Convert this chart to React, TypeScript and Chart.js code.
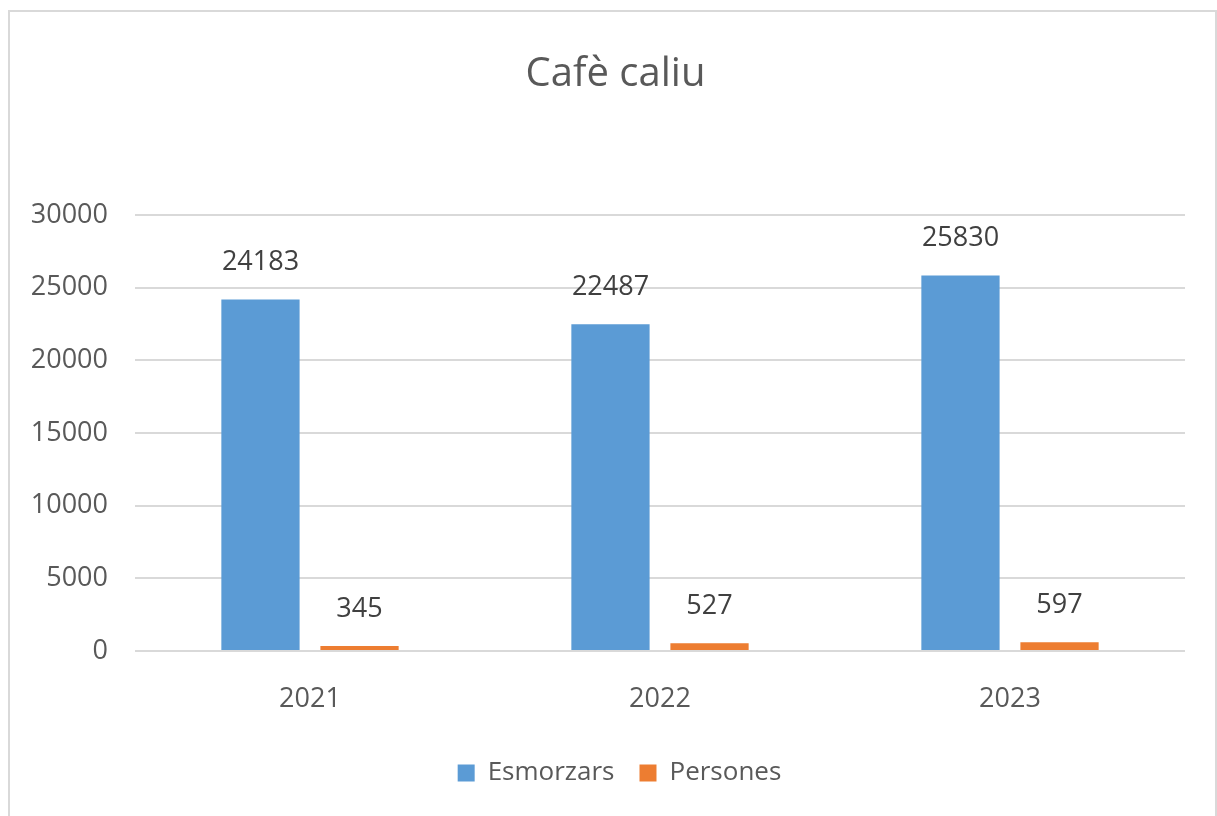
import React, { useEffect, useRef } from "react";
import { Chart, registerables } from "chart.js";

Chart.register(...registerables);

const title = "Cafè caliu";
const categories = ["2021", "2022", "2023"];
const esmorzars = [24183, 22487, 25830];
const persones = [345, 527, 597];
const yTicks = [0, 5000, 10000, 15000, 20000, 25000, 30000];

const FONT = "'Open Sans', sans-serif";

const dataLabels = {
  id: "dataLabels",
  afterDatasetsDraw(chart: any) {
    const ctx = chart.ctx;
    ctx.save();
    ctx.font = `27px ${FONT}`;
    ctx.fillStyle = "#404040";
    ctx.textAlign = "center";
    ctx.textBaseline = "middle";
    chart.data.datasets.forEach((ds: any, i: number) => {
      const meta = chart.getDatasetMeta(i);
      meta.data.forEach((el: any, j: number) => {
        ctx.fillText(String(ds.data[j]), el.x, el.y - 37);
      });
    });
    ctx.restore();
  },
};

// shift title and legend horizontally to match the reference centring
const shiftBoxes = {
  id: "shiftBoxes",
  afterLayout(chart: any) {
    const t = chart.titleBlock;
    if (t) {
      t.left += 23;
      t.right += 23;
    }
    const l = chart.legend;
    if (l) {
      l.left += 27;
      l.right += 27;
      if (typeof l.adjustHitBoxes === "function") l.adjustHitBoxes();
    }
  },
};

export default function App() {
  const ref = useRef<HTMLCanvasElement>(null);
  useEffect(() => {
    if (!ref.current) return;
    const chart = new Chart(ref.current, {
      type: "bar",
      data: {
        labels: categories,
        datasets: [
          {
            label: "Esmorzars",
            data: esmorzars,
            backgroundColor: "#5B9BD5",
            categoryPercentage: 0.566,
            barPercentage: 0.79,
          },
          {
            label: "Persones",
            data: persones,
            backgroundColor: "#ED7D31",
            categoryPercentage: 0.566,
            barPercentage: 0.79,
          },
        ],
      },
      options: {
        responsive: false,
        animation: false,
        layout: { padding: { left: 0, right: 32, top: 0, bottom: 20 } },
        plugins: {
          title: {
            display: true,
            text: title,
            color: "#595959",
            font: { family: FONT, size: 40, weight: "normal" as any, lineHeight: 1.2 },
            padding: { top: 51, bottom: 116 },
          },
          legend: {
            position: "bottom",
            labels: {
              color: "#595959",
              font: { family: FONT, size: 26 },
              boxWidth: 17,
              boxHeight: 17,
              padding: 25,
            },
          },
          tooltip: { enabled: false },
        },
        scales: {
          x: {
            grid: { display: false, drawTicks: false },
            border: { display: false },
            ticks: { color: "#595959", font: { family: FONT, size: 27 }, padding: 32 },
            afterFit: (s: any) => {
              s.height = 84;
            },
          },
          y: {
            min: 0,
            max: 30000,
            afterBuildTicks: (s: any) => {
              s.ticks = yTicks.map((v) => ({ value: v }));
            },
            grid: { color: "#D9D9D9", lineWidth: 2, drawTicks: false },
            border: { display: false },
            ticks: {
              color: "#595959",
              font: { family: FONT, size: 27 },
              padding: 27,
              callback: (v: any) => String(v),
            },
            afterFit: (s: any) => {
              s.width = 135;
            },
          },
        },
      },
      plugins: [dataLabels, shiftBoxes],
    });
    return () => chart.destroy();
  }, []);
  return (
    <div style={{ position: "fixed", left: 0, top: 0, width: 1217, height: 816, background: "#fff", overflow: "hidden" }}>
      <div
        style={{
          position: "absolute",
          left: 8,
          top: 10,
          width: 1209,
          height: 820,
          border: "2px solid #D9D9D9",
          boxSizing: "border-box",
        }}
      />
      <canvas ref={ref} width={1217} height={816} style={{ position: "absolute", left: 0, top: 0 }} />
    </div>
  );
}
